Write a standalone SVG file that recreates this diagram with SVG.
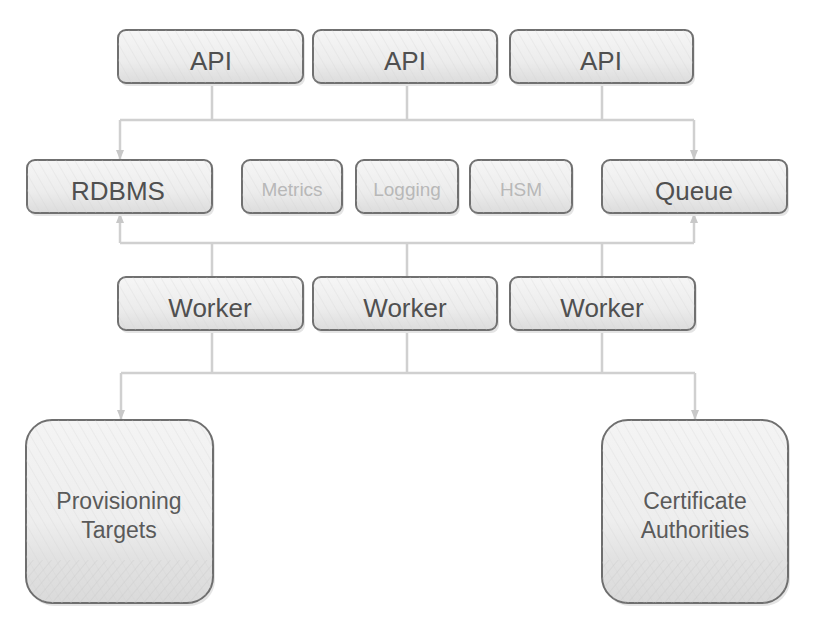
<svg xmlns="http://www.w3.org/2000/svg" width="815" height="627" viewBox="0 0 815 627">
<defs>
<linearGradient id="g" x1="0" y1="0" x2="0" y2="1">
<stop offset="0" stop-color="#f6f6f6"/>
<stop offset="0.6" stop-color="#ececec"/>
<stop offset="1" stop-color="#dcdcdc"/>
</linearGradient>
<linearGradient id="gb" x1="0" y1="0" x2="0" y2="1">
<stop offset="0" stop-color="#f4f4f4"/>
<stop offset="0.55" stop-color="#eeeeee"/>
<stop offset="0.75" stop-color="#e2e2e2"/>
<stop offset="1" stop-color="#dadada"/>
</linearGradient>
<pattern id="hatch" width="8" height="8" patternUnits="userSpaceOnUse" patternTransform="rotate(-30)">
<line x1="0" y1="0" x2="0" y2="8" stroke="#cfcfcf" stroke-width="1" opacity="0.5"/>
</pattern>
<pattern id="hatch2" width="7" height="7" patternUnits="userSpaceOnUse" patternTransform="rotate(40)">
<line x1="0" y1="0" x2="0" y2="7" stroke="#c4c4c4" stroke-width="1" opacity="0.6"/>
</pattern>
<marker id="arr" markerWidth="10" markerHeight="8" refX="9" refY="4" orient="auto" markerUnits="userSpaceOnUse">
<path d="M0,0 L10,4 L0,8 z" fill="#c8c8c8"/>
</marker>
</defs>
<style>
.box{fill:url(#g);stroke:#707070;stroke-width:2}
.big{fill:url(#gb);stroke:#6e6e6e;stroke-width:2}
.sh{fill:#e4e4e4}
.tx{font-family:"Liberation Sans",Arial,sans-serif;font-size:26px;fill:#505050;text-anchor:middle}
.tl{font-family:"Liberation Sans",Arial,sans-serif;font-size:19px;fill:#b8b8b8;text-anchor:middle}
.tb{font-family:"Liberation Sans",Arial,sans-serif;font-size:23px;fill:#5a5a5a;text-anchor:middle}
.ln{fill:none;stroke:#d0d0d0;stroke-width:2.5}
</style>
<rect width="815" height="627" fill="#ffffff"/>
<g id="connectors">
<path class="ln" d="M212,83 V120 M407,83 V120 M602,83 V120 M120,120 H694"/>
<path class="ln" d="M120,120 V159" marker-end="url(#arr)"/>
<path class="ln" d="M694,120 V159" marker-end="url(#arr)"/>
<path class="ln" d="M120,243 H694 M212,243 V277 M407,243 V277 M602,243 V277"/>
<path class="ln" d="M120,243 V214" marker-end="url(#arr)"/>
<path class="ln" d="M694,243 V214" marker-end="url(#arr)"/>
<path class="ln" d="M212,330 V373 M407,330 V373 M602,330 V373 M121,373 H695"/>
<path class="ln" d="M121,373 V419" marker-end="url(#arr)"/>
<path class="ln" d="M695,373 V419" marker-end="url(#arr)"/>
</g>
<g id="api1"><rect class="sh" x="120" y="33" width="185" height="53" rx="8"/><rect class="box" x="118" y="30" width="185" height="53" rx="8"/><rect x="118" y="30" width="185" height="53" rx="8" fill="url(#hatch)"/><text class="tx" x="211" y="70">API</text></g>
<g id="api2"><rect class="sh" x="315" y="33" width="184" height="53" rx="8"/><rect class="box" x="313" y="30" width="184" height="53" rx="8"/><rect x="313" y="30" width="184" height="53" rx="8" fill="url(#hatch)"/><text class="tx" x="405" y="70">API</text></g>
<g id="api3"><rect class="sh" x="512" y="33" width="183" height="53" rx="8"/><rect class="box" x="510" y="30" width="183" height="53" rx="8"/><rect x="510" y="30" width="183" height="53" rx="8" fill="url(#hatch)"/><text class="tx" x="601" y="70">API</text></g>
<g id="rdbms"><rect class="sh" x="29" y="163" width="185" height="53" rx="8"/><rect class="box" x="27" y="160" width="185" height="53" rx="8"/><rect x="27" y="160" width="185" height="53" rx="8" fill="url(#hatch)"/><text class="tx" x="118" y="200">RDBMS</text></g>
<g id="metrics"><rect class="sh" x="244" y="163" width="100" height="53" rx="8"/><rect class="box" x="242" y="160" width="100" height="53" rx="8"/><rect x="242" y="160" width="100" height="53" rx="8" fill="url(#hatch)"/><text class="tl" x="292" y="196">Metrics</text></g>
<g id="logging"><rect class="sh" x="358" y="163" width="102" height="53" rx="8"/><rect class="box" x="356" y="160" width="102" height="53" rx="8"/><rect x="356" y="160" width="102" height="53" rx="8" fill="url(#hatch)"/><text class="tl" x="407" y="196">Logging</text></g>
<g id="hsm"><rect class="sh" x="472" y="163" width="102" height="53" rx="8"/><rect class="box" x="470" y="160" width="102" height="53" rx="8"/><rect x="470" y="160" width="102" height="53" rx="8" fill="url(#hatch)"/><text class="tl" x="521" y="196">HSM</text></g>
<g id="queue"><rect class="sh" x="604" y="163" width="185" height="53" rx="8"/><rect class="box" x="602" y="160" width="185" height="53" rx="8"/><rect x="602" y="160" width="185" height="53" rx="8" fill="url(#hatch)"/><text class="tx" x="694" y="200">Queue</text></g>
<g id="worker1"><rect class="sh" x="120" y="280" width="185" height="53" rx="8"/><rect class="box" x="118" y="277" width="185" height="53" rx="8"/><rect x="118" y="277" width="185" height="53" rx="8" fill="url(#hatch)"/><text class="tx" x="210" y="317">Worker</text></g>
<g id="worker2"><rect class="sh" x="315" y="280" width="184" height="53" rx="8"/><rect class="box" x="313" y="277" width="184" height="53" rx="8"/><rect x="313" y="277" width="184" height="53" rx="8" fill="url(#hatch)"/><text class="tx" x="405" y="317">Worker</text></g>
<g id="worker3"><rect class="sh" x="512" y="280" width="185" height="53" rx="8"/><rect class="box" x="510" y="277" width="185" height="53" rx="8"/><rect x="510" y="277" width="185" height="53" rx="8" fill="url(#hatch)"/><text class="tx" x="602" y="317">Worker</text></g>
<g id="provisioning"><rect class="sh" x="28" y="423" width="187" height="183" rx="26"/><rect class="big" x="26" y="420" width="187" height="183" rx="26"/><rect x="26" y="420" width="187" height="183" rx="26" fill="url(#hatch)"/><path d="M27,560 H212 V577 A26,26 0 0 1 186,603 H52 A26,26 0 0 1 27,577 Z" fill="url(#hatch2)"/><text class="tb" x="119" y="509">Provisioning</text><text class="tb" x="119" y="538">Targets</text></g>
<g id="certificate"><rect class="sh" x="604" y="423" width="186" height="183" rx="26"/><rect class="big" x="602" y="420" width="186" height="183" rx="26"/><rect x="602" y="420" width="186" height="183" rx="26" fill="url(#hatch)"/><path d="M603,560 H787 V577 A26,26 0 0 1 761,603 H628 A26,26 0 0 1 603,577 Z" fill="url(#hatch2)"/><text class="tb" x="695" y="509">Certificate</text><text class="tb" x="695" y="538">Authorities</text></g>
</svg>
